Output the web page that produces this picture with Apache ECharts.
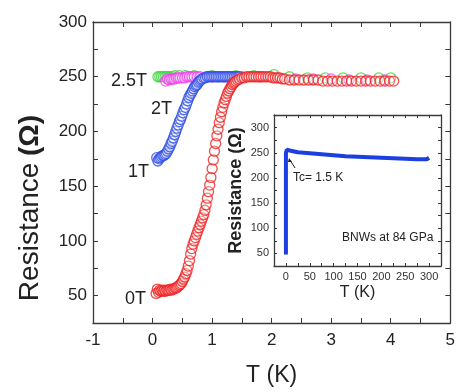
<!DOCTYPE html>
<html>
<head>
<meta charset="utf-8">
<script src="https://cdn.jsdelivr.net/npm/echarts@6/dist/echarts.min.js"></script>
<style>
  html, body { margin: 0; padding: 0; background: #fff; }
  #chart { width: 458px; height: 392px; }
</style>
</head>
<body>
<div id="chart"></div>
<script>
// R(T) under field: [T (K), R (ohm)]
var r0T = [
  [0.06,52],[0.08,56],[0.10,53],[0.12,55],[0.14,54],[0.16,55],[0.18,54],[0.20,55],[0.22,54],[0.24,55],
  [0.26,55],[0.28,55],[0.30,56],[0.32,55],[0.34,56],[0.36,56],[0.38,57],[0.40,57],[0.42,58],[0.44,59],
  [0.46,60],[0.48,61],[0.50,63],[0.52,65],[0.54,67],[0.56,70],[0.58,73],[0.60,77],[0.62,82],[0.64,88],
  [0.66,93],[0.68,97],[0.70,100],[0.72,103],[0.74,106],[0.76,109],[0.78,112],[0.80,115],[0.82,118],
  [0.84,121],[0.86,124],[0.88,128],[0.90,133],[0.92,139],[0.94,145],[0.96,151],[0.98,158],[1.00,166],
  [1.02,174],[1.04,182],[1.06,189],[1.08,196],[1.10,202],[1.12,208],[1.14,213],[1.16,218],[1.18,222],
  [1.20,226],[1.22,229],[1.24,232],[1.26,235],[1.28,237],[1.30,239],[1.32,241],[1.34,243],[1.36,244],
  [1.38,245],[1.40,246],[1.43,247],[1.46,248],[1.50,249],[1.54,249],[1.58,250],[1.62,250],[1.66,250],
  [1.70,250],[1.74,250],[1.78,250],[1.82,250],[1.86,250],[1.90,250],[1.94,250],[1.98,250],[2.02,249],
  [2.06,249],[2.10,249],[2.14,249],[2.18,248],[2.22,248],
  [2.30,247],[2.38,247],[2.46,247],[2.54,247],[2.62,247],[2.70,247],[2.78,247],[2.86,246],[2.94,246],
  [3.02,246],[3.10,246],[3.18,246],[3.26,246],[3.34,246],[3.42,246],[3.50,246],[3.58,246],[3.66,246],
  [3.74,246],[3.82,246],[3.90,246],[3.98,246],[4.05,246]
];
var r1T = [
  [0.07,176],[0.09,173],[0.11,175],[0.13,176],[0.15,177],[0.17,178],[0.19,178],[0.21,179],[0.23,180],
  [0.25,182],[0.27,184],[0.29,186],[0.31,189],[0.33,191],[0.35,194],[0.37,197],[0.39,200],[0.41,203],
  [0.43,206],[0.45,209],[0.47,211],[0.49,214],[0.51,217],[0.53,220],[0.55,222],[0.57,225],[0.59,228],
  [0.61,231],[0.63,233],[0.65,235],[0.67,237],[0.69,239],[0.71,241],[0.73,242],[0.75,243],[0.77,245],
  [0.79,246],[0.81,247],[0.83,248],[0.86,249],[0.89,249],[0.92,250],[0.95,250],[0.98,250],[1.01,250],
  [1.04,250],[1.07,250],[1.10,250],[1.13,250],[1.16,250],[1.19,250],[1.22,250],[1.25,250],[1.28,250],
  [1.31,250],[1.34,250],[1.37,250],[1.40,250],[1.43,250],[1.46,250]
];
var r2T = [
  [0.22,246],[0.25,248],[0.28,247],[0.31,248],[0.34,248],[0.37,248],[0.40,249],[0.43,249],[0.46,249],
  [0.50,249],[0.54,249],[0.58,250],[0.62,250],[0.66,250],[0.70,250],[0.75,250],[0.80,250],[0.90,250],
  [1.0,250],[1.1,250],[1.2,250],[1.3,250],[1.5,250],[1.8,250],[2.1,249],[2.4,248],[2.7,248],[3.0,248],
  [3.3,247],[3.6,247],[3.9,247]
];
var r25T = [
  [0.09,250],[0.12,250],[0.15,250],[0.18,250],[0.21,250],[0.24,250],[0.27,250],[0.30,250],[0.34,250],
  [0.38,251],[0.45,251],[0.55,251],[0.7,251],[1.0,251],[1.4,251],[1.7,251],[2.04,252],[2.3,250],
  [2.6,249],[2.9,249],[3.2,249],[3.5,249],[3.8,249],[4.0,249]
];
// inset: R(T) up to room temperature
var rHighT = [
  [0,48],[0,60],[0,100],[0,150],[0,200],[0,250],[2,256],[10,254],[25,251],[50,249],[75,247],
  [100,245],[125,243],[150,242],[175,241],[200,240],[225,239],[250,238],[275,237],[295,237],[300,240]
];

var FONT = "'Liberation Sans', Arial, sans-serif";
var AX = '#3a3a3a';

function frameAxis(opt) {
  var base = {
    axisLine: { onZero: false, lineStyle: { color: AX, width: 1.3 } },
    axisTick: { inside: true, length: 5, lineStyle: { color: AX } },
    splitLine: { show: false },
    axisLabel: { show: false }
  };
  return Object.assign(base, opt);
}

function dots(name, data, color) {
  return {
    name: name,
    type: 'scatter',
    xAxisIndex: 0,
    yAxisIndex: 0,
    symbol: 'circle',
    symbolSize: 10,
    data: data,
    itemStyle: {
      color: 'rgba(255,255,255,0.3)',
      borderColor: color,
      borderWidth: 1.3
    }
  };
}

function note(text, x, y, size, align) {
  return {
    type: 'text', x: x, y: y, z: 20,
    style: { text: text, font: size + 'px ' + FONT, fill: '#222', textAlign: align || 'left', textVerticalAlign: 'middle' }
  };
}

var option = {
  backgroundColor: '#fff',
  animation: false,
  textStyle: { fontFamily: FONT },
  grid: [
    { left: 93, top: 22, right: 5, bottom: 63 },
    { left: 274, top: 115, width: 167, height: 151, backgroundColor: '#fff', show: true, borderWidth: 0 }
  ],
  xAxis: [
    frameAxis({
      gridIndex: 0, type: 'value', min: -1, max: 5, interval: 0.5, position: 'bottom',
      name: 'T (K)', nameLocation: 'middle', nameGap: 41,
      nameTextStyle: { fontSize: 23, color: '#222', fontFamily: FONT },
      axisLabel: {
        show: true, fontSize: 17, color: '#222', margin: 9, fontFamily: FONT,
        formatter: function (v) { return Number.isInteger(v) ? String(v) : ''; }
      }
    }),
    frameAxis({ gridIndex: 0, type: 'value', min: -1, max: 5, interval: 0.5, position: 'top' }),
    frameAxis({
      gridIndex: 1, type: 'value', min: -25, max: 325, interval: 25, position: 'bottom',
      axisTick: { inside: true, length: 3, lineStyle: { color: AX } },
      name: 'T (K)', nameLocation: 'middle', nameGap: 19,
      nameTextStyle: { fontSize: 16, color: '#222', fontFamily: FONT },
      axisLabel: {
        show: true, fontSize: 11, color: '#333', margin: 5, fontFamily: FONT,
        formatter: function (v) { return (v % 50 === 0 && v >= 0 && v <= 300) ? String(v) : ''; }
      }
    }),
    frameAxis({
      gridIndex: 1, type: 'value', min: -25, max: 325, interval: 25, position: 'top',
      axisTick: { inside: true, length: 3, lineStyle: { color: AX } }
    })
  ],
  yAxis: [
    frameAxis({
      gridIndex: 0, type: 'value', min: 25, max: 300, interval: 25, position: 'left',
      axisLabel: {
        show: true, fontSize: 17, color: '#222', margin: 6, fontFamily: FONT,
        formatter: function (v) { return v % 50 === 0 ? String(v) : ''; }
      }
    }),
    frameAxis({ gridIndex: 0, type: 'value', min: 25, max: 300, interval: 25, position: 'right' }),
    frameAxis({
      gridIndex: 1, type: 'value', min: 25, max: 325, interval: 25, position: 'left',
      axisTick: { inside: true, length: 3, lineStyle: { color: AX } },
      name: 'Resistance (Ω)', nameLocation: 'middle', nameGap: 29,
      nameTextStyle: { fontSize: 18, fontWeight: 'bold', color: '#222', fontFamily: FONT },
      axisLabel: {
        show: true, fontSize: 11, color: '#333', margin: 5, fontFamily: FONT,
        formatter: function (v) { return v % 50 === 0 ? String(v) : ''; }
      }
    }),
    frameAxis({
      gridIndex: 1, type: 'value', min: 25, max: 325, interval: 25, position: 'right',
      axisTick: { inside: true, length: 3, lineStyle: { color: AX } }
    })
  ],
  series: [
    dots('2.5T', r25T, '#3ad83a'),
    dots('2T', r2T, '#f03cf0'),
    dots('1T', r1T, '#2f4fe6'),
    dots('0T', r0T, '#f02020'),
    {
      name: 'BNWs at 84 GPa',
      type: 'line',
      xAxisIndex: 2,
      yAxisIndex: 2,
      data: rHighT,
      showSymbol: false,
      lineStyle: { color: '#1b3fe0', width: 4 },
      z: 5
    }
  ],
  graphic: [
    {
      type: 'text', x: 30, y: 208, rotation: Math.PI / 2, z: 20,
      style: {
        text: '{a|Resistance}  {b|(Ω)}',
        textAlign: 'center', textVerticalAlign: 'middle',
        rich: {
          a: { font: '28px ' + FONT, fill: '#222' },
          b: { font: 'bold 28px ' + FONT, fill: '#222' }
        }
      }
    },
    note('2.5T', 147, 81, 18, 'right'),
    note('2T', 151, 109, 18),
    note('1T', 128, 172, 18),
    note('0T', 125, 299, 18),
    note('Tc= 1.5 K', 293, 178, 12),
    note('BNWs at 84 GPa', 342, 238, 12),
    { type: 'line', z: 20, shape: { x1: 295, y1: 168, x2: 290, y2: 160 }, style: { stroke: '#222', lineWidth: 1 } },
    { type: 'polygon', z: 20, shape: { points: [[289, 158], [292, 162], [288, 162]] }, style: { fill: '#222' } }
  ]
};

var chart = echarts.init(document.getElementById('chart'));
chart.setOption(option);
</script>
</body>
</html>
